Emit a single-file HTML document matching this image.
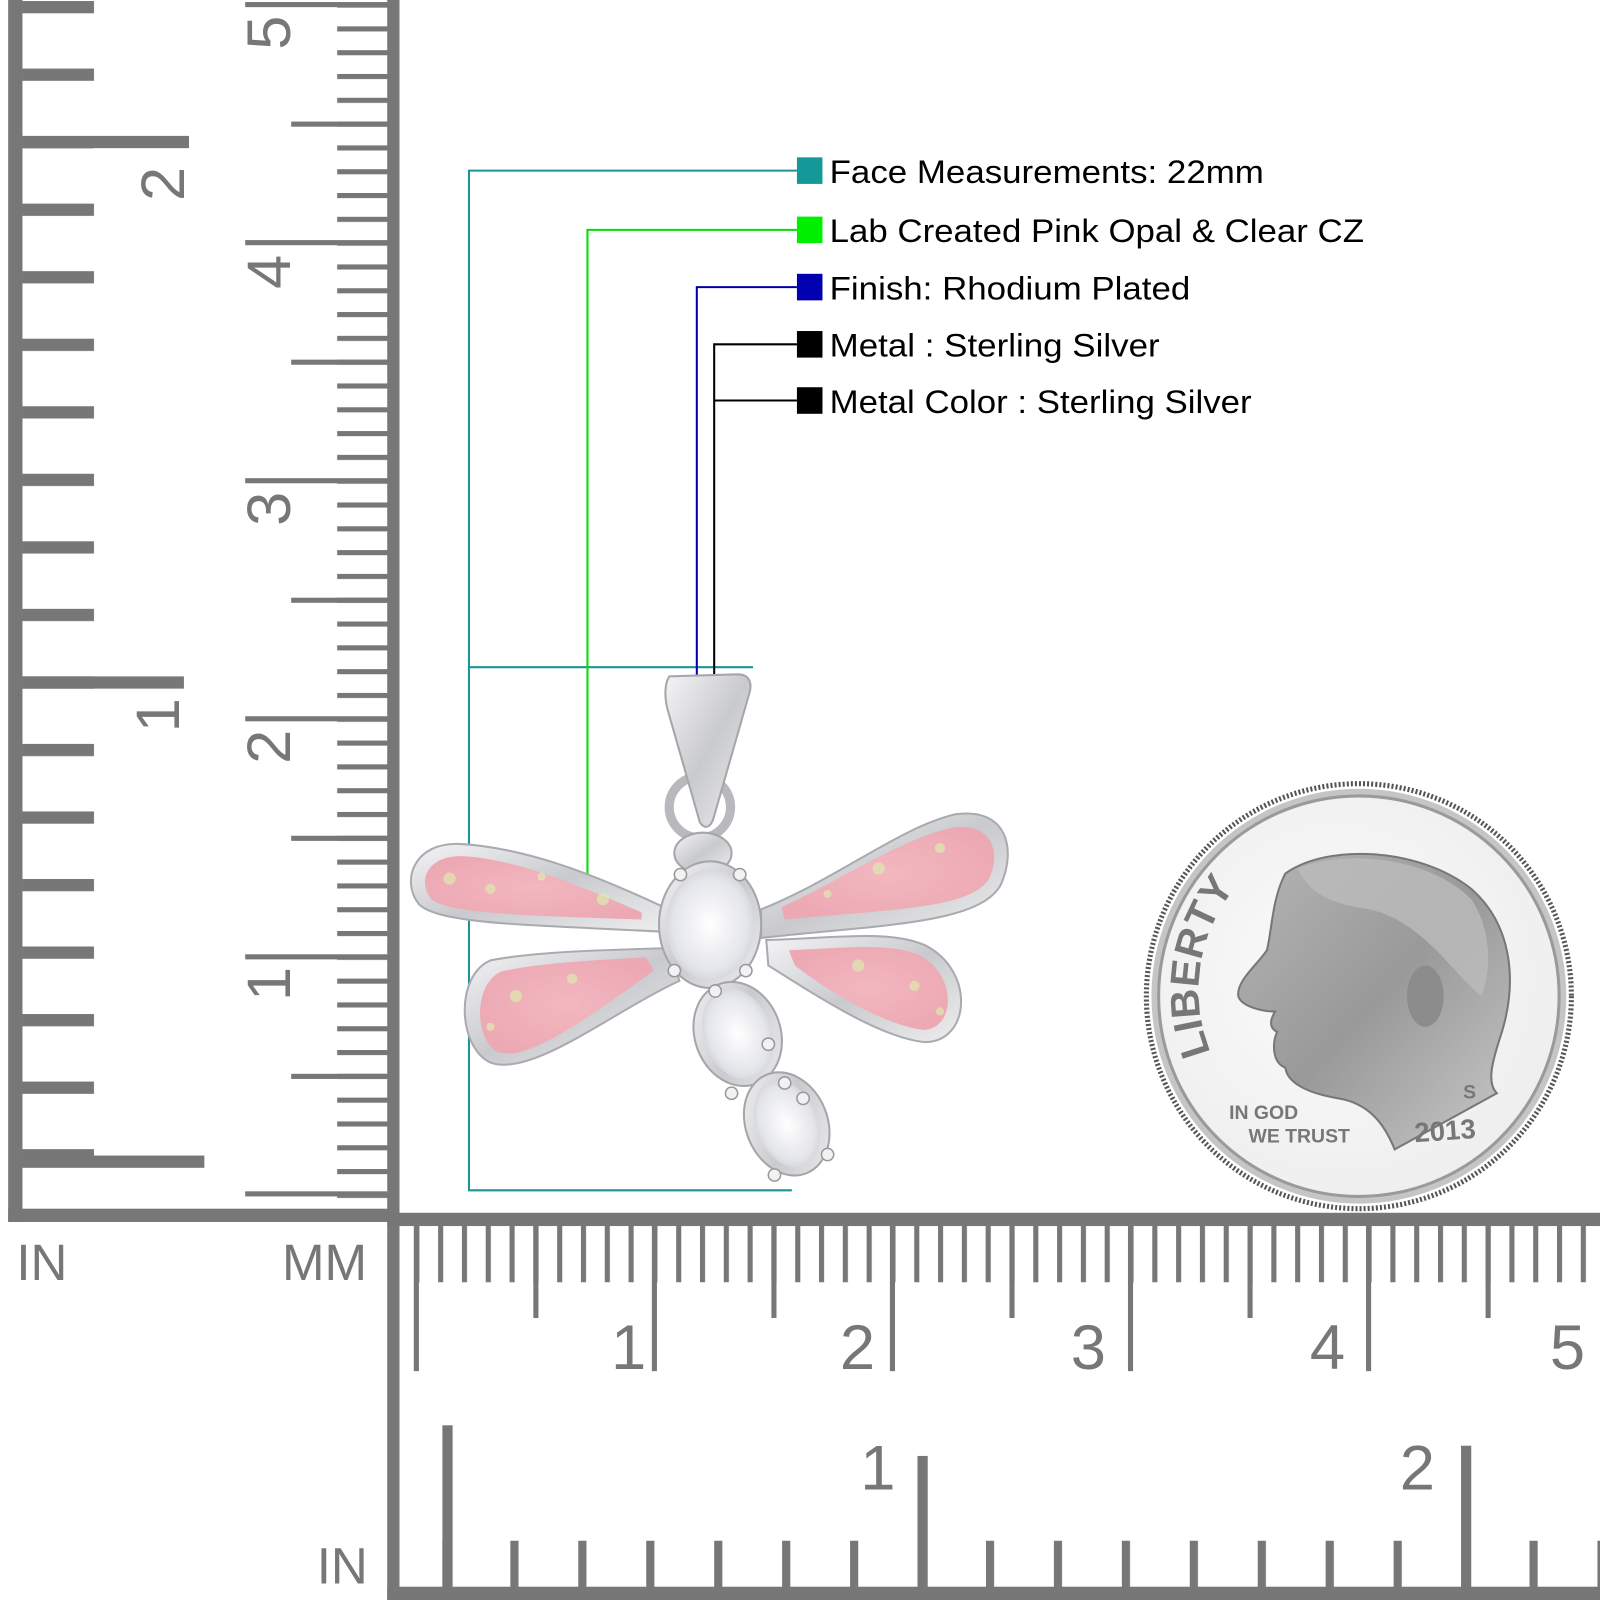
<!DOCTYPE html>
<html><head><meta charset="utf-8"><style>
html,body{margin:0;padding:0;background:#fff;}
svg{display:block;}
text{font-family:"Liberation Sans",Arial,sans-serif;}
</style></head><body>
<svg width="1600" height="1600" viewBox="0 0 1566 1566" xmlns="http://www.w3.org/2000/svg">
<defs>
<pattern id="inL" patternUnits="userSpaceOnUse" x="0" y="1" width="400" height="66.1"><rect x="22" y="0" width="70" height="12" fill="#777"/></pattern>
<pattern id="mmL" patternUnits="userSpaceOnUse" x="0" y="2.5" width="400" height="23.3"><rect x="330" y="0" width="50" height="5" fill="#777"/></pattern>
<pattern id="mmB" patternUnits="userSpaceOnUse" x="405.5" y="0" width="23.3" height="1600"><rect x="0" y="1198" width="5" height="57" fill="#777"/></pattern>
<pattern id="inB" patternUnits="userSpaceOnUse" x="433" y="0" width="66.5" height="1600"><rect x="0" y="1508" width="8" height="50" fill="#777"/></pattern>
<linearGradient id="silv" x1="0" y1="0" x2="1" y2="1"><stop offset="0" stop-color="#f4f4f6"/><stop offset="0.5" stop-color="#c9cacd"/><stop offset="1" stop-color="#eeeeef"/></linearGradient>
<radialGradient id="pink" cx="0.5" cy="0.5" r="0.6"><stop offset="0" stop-color="#f2b7c0"/><stop offset="1" stop-color="#eca8b3"/></radialGradient>
<radialGradient id="cz" cx="0.5" cy="0.5" r="0.6"><stop offset="0" stop-color="#ffffff"/><stop offset="0.7" stop-color="#e4e5ea"/><stop offset="1" stop-color="#c8c9ce"/></radialGradient>
<radialGradient id="coin" cx="0.45" cy="0.45" r="0.6"><stop offset="0" stop-color="#fbfbfb"/><stop offset="1" stop-color="#eeeeee"/></radialGradient>
<linearGradient id="head" x1="0" y1="0" x2="1" y2="1"><stop offset="0" stop-color="#b5b5b5"/><stop offset="0.5" stop-color="#999"/><stop offset="1" stop-color="#c8c8c8"/></linearGradient>
</defs>

<!-- LEFT RULER -->
<rect x="0" y="0" width="400" height="1183" fill="url(#inL)"/>
<rect x="0" y="0" width="400" height="1183" fill="url(#mmL)"/>
<rect x="8" y="0" width="14" height="1196" fill="#777"/>
<rect x="379" y="0" width="12" height="1196" fill="#777"/>
<rect x="8" y="1183" width="383" height="13" fill="#777"/>
<!-- long inch ticks -->
<rect x="22" y="133" width="163" height="12" fill="#777"/>
<rect x="22" y="662" width="158" height="12" fill="#777"/>
<rect x="22" y="1131" width="178" height="12" fill="#777"/>
<!-- 5mm ticks -->
<g fill="#777">
<rect x="285" y="119" width="94" height="5"/><rect x="285" y="352" width="94" height="5"/><rect x="285" y="585" width="94" height="5"/><rect x="285" y="818" width="94" height="5"/><rect x="285" y="1051" width="94" height="5"/>
<rect x="240" y="2" width="139" height="5"/><rect x="240" y="235" width="139" height="5"/><rect x="240" y="468" width="139" height="5"/><rect x="240" y="701" width="139" height="5"/><rect x="240" y="934" width="139" height="5"/><rect x="240" y="1166" width="139" height="5"/>
</g>
<g fill="#777" font-size="60">
<text transform="translate(180,180) rotate(-90)" text-anchor="middle">2</text>
<text transform="translate(175,700) rotate(-90)" text-anchor="middle">1</text>
<text transform="translate(284,32) rotate(-90)" text-anchor="middle">5</text>
<text transform="translate(284,266) rotate(-90)" text-anchor="middle">4</text>
<text transform="translate(284,498) rotate(-90)" text-anchor="middle">3</text>
<text transform="translate(284,731) rotate(-90)" text-anchor="middle">2</text>
<text transform="translate(284,963) rotate(-90)" text-anchor="middle">1</text>
</g>
<g fill="#777" font-size="50">
<text x="16" y="1253">IN</text>
<text x="276" y="1253">MM</text>
<text x="310" y="1550">IN</text>
</g>

<!-- BOTTOM RULER -->
<rect x="391" y="1190" width="1175" height="380" fill="url(#mmB)"/>
<rect x="391" y="1190" width="1175" height="380" fill="url(#inB)"/>
<rect x="379" y="1187" width="1187" height="13" fill="#777"/>
<rect x="379" y="1187" width="12" height="379" fill="#777"/>
<rect x="379" y="1553" width="1187" height="13" fill="#777"/>
<g fill="#777">
<rect x="522" y="1198" width="5" height="92"/><rect x="755" y="1198" width="5" height="92"/><rect x="988" y="1198" width="5" height="92"/><rect x="1221" y="1198" width="5" height="92"/><rect x="1454" y="1198" width="5" height="92"/>
<rect x="405" y="1198" width="5" height="144"/><rect x="638" y="1198" width="5" height="144"/><rect x="871" y="1198" width="5" height="144"/><rect x="1104" y="1198" width="5" height="144"/><rect x="1337" y="1198" width="5" height="144"/>
<rect x="433" y="1395" width="10" height="160"/>
<rect x="898" y="1425" width="10" height="130"/>
<rect x="1430" y="1415" width="10" height="140"/>
</g>
<g fill="#777" font-size="62">
<text x="598" y="1340">1</text><text x="822" y="1340">2</text><text x="1048" y="1340">3</text><text x="1282" y="1340">4</text><text x="1517" y="1340">5</text>
<text x="842" y="1458">1</text><text x="1370" y="1458">2</text>
</g>

<!-- LEGEND LINES -->
<g fill="none" stroke-width="2">
<polyline points="780,167 459,167 459,1165 775,1165" stroke="#1a9494"/>
<line x1="459" y1="653" x2="737" y2="653" stroke="#1a9494"/>
<polyline points="780,225 575,225 575,890" stroke="#00e000"/>
<polyline points="780,281 682,281 682,680" stroke="#0000a8"/>
<polyline points="780,337 699,337 699,660" stroke="#000"/>
<line x1="699" y1="392" x2="780" y2="392" stroke="#000"/>
</g>
<rect x="780" y="154" width="25" height="26" fill="#159898"/>
<rect x="780" y="212" width="25" height="26" fill="#00f000"/>
<rect x="780" y="268" width="25" height="26" fill="#0000b0"/>
<rect x="780" y="324" width="25" height="26" fill="#000"/>
<rect x="780" y="379" width="25" height="26" fill="#000"/>
<g fill="#000" font-size="32">
<text x="812" y="179" textLength="425" lengthAdjust="spacingAndGlyphs">Face Measurements: 22mm</text>
<text x="812" y="237" textLength="523" lengthAdjust="spacingAndGlyphs">Lab Created Pink Opal &amp; Clear CZ</text>
<text x="812" y="293" textLength="353" lengthAdjust="spacingAndGlyphs">Finish: Rhodium Plated</text>
<text x="812" y="349" textLength="323" lengthAdjust="spacingAndGlyphs">Metal : Sterling Silver</text>
<text x="812" y="404" textLength="413" lengthAdjust="spacingAndGlyphs">Metal Color : Sterling Silver</text>
</g>

<!-- DRAGONFLY -->
<g stroke="#a9abb0" stroke-width="2">
<!-- wings outer silver -->
<path d="M650,888 C590,860 520,830 450,826 C405,824 392,862 410,885 C430,905 520,905 650,912 Z" fill="url(#silv)"/>
<path d="M655,928 C580,930 520,932 480,940 C445,955 448,1025 480,1040 C520,1055 600,990 665,960 Z" fill="url(#silv)"/>
<path d="M745,890 C820,860 880,810 935,797 C985,790 995,830 980,865 C960,905 860,905 745,918 Z" fill="url(#silv)"/>
<path d="M750,920 C820,918 870,910 905,925 C955,950 950,1020 905,1020 C860,1015 800,975 752,945 Z" fill="url(#silv)"/>
</g>
<g fill="url(#pink)">
<path d="M628,893 C570,868 510,842 455,838 C418,836 408,862 422,880 C440,895 520,896 628,900 Z"/>
<path d="M632,937 C575,940 525,943 490,951 C462,965 465,1020 488,1030 C520,1040 590,985 640,950 Z"/>
<path d="M765,888 C825,860 880,822 932,810 C972,805 980,835 968,860 C950,890 870,890 768,900 Z"/>
<path d="M772,930 C825,928 870,922 900,935 C938,955 935,1008 903,1008 C865,1003 810,970 778,945 Z"/>
</g>
<g fill="#dfe9b0" opacity="0.7">
<circle cx="440" cy="860" r="6"/><circle cx="480" cy="870" r="5"/><circle cx="530" cy="858" r="4"/><circle cx="590" cy="880" r="6"/><circle cx="505" cy="975" r="6"/><circle cx="560" cy="958" r="5"/><circle cx="480" cy="1005" r="4"/>
<circle cx="860" cy="850" r="6"/><circle cx="920" cy="830" r="5"/><circle cx="810" cy="875" r="4"/><circle cx="840" cy="945" r="6"/><circle cx="895" cy="965" r="5"/><circle cx="920" cy="990" r="4"/>
</g>
<!-- bail -->
<ellipse cx="685" cy="790" rx="30" ry="30" fill="none" stroke="#b8b9bd" stroke-width="9"/>
<path d="M655,662 C650,670 650,685 655,700 L685,805 C690,812 695,810 698,802 L733,680 C737,668 733,660 722,660 Z" fill="url(#silv)" stroke="#a5a6aa" stroke-width="2"/>
<!-- body -->
<g stroke="#a5a6aa" stroke-width="2">
<ellipse cx="688" cy="835" rx="28" ry="20" fill="url(#silv)"/>
<ellipse cx="695" cy="905" rx="50" ry="62" fill="url(#silv)"/>
<ellipse cx="722" cy="1012" rx="42" ry="52" fill="url(#silv)" transform="rotate(-20 722 1012)"/>
<ellipse cx="770" cy="1100" rx="40" ry="52" fill="url(#silv)" transform="rotate(-22 770 1100)"/>
</g>
<ellipse cx="695" cy="905" rx="43" ry="54" fill="url(#cz)"/>
<ellipse cx="722" cy="1012" rx="33" ry="46" fill="url(#cz)" transform="rotate(-20 722 1012)"/>
<ellipse cx="770" cy="1100" rx="30" ry="44" fill="url(#cz)" transform="rotate(-22 770 1100)"/>
<g fill="#f2f2f4" stroke="#999" stroke-width="1.5">
<circle cx="666" cy="856" r="6"/><circle cx="724" cy="856" r="6"/><circle cx="660" cy="950" r="6"/><circle cx="730" cy="950" r="6"/>
<circle cx="700" cy="970" r="6"/><circle cx="752" cy="1022" r="6"/><circle cx="716" cy="1070" r="6"/><circle cx="768" cy="1060" r="6"/><circle cx="786" cy="1075" r="6"/><circle cx="758" cy="1150" r="6"/><circle cx="810" cy="1130" r="6"/>
</g>

<!-- DIME -->
<circle cx="1330" cy="975" r="208" fill="#fff" stroke="#555" stroke-width="5" stroke-dasharray="2 2"/>
<circle cx="1330" cy="975" r="203" fill="#c5c5c5"/>
<circle cx="1330" cy="975" r="196" fill="url(#coin)" stroke="#9a9a9a" stroke-width="3"/>
<path d="M1258,855 C1300,825 1390,830 1440,870 C1480,905 1485,960 1470,1010 C1460,1040 1455,1060 1465,1070 L1365,1125 C1355,1100 1340,1080 1310,1075 C1280,1070 1260,1060 1258,1045 C1245,1040 1245,1020 1250,1010 C1240,1005 1245,995 1248,990 C1235,990 1215,985 1212,975 C1210,960 1230,945 1240,930 C1245,910 1245,880 1258,855 Z" fill="url(#head)" stroke="#777" stroke-width="2"/>
<path d="M1270,850 C1320,830 1400,840 1440,880 C1460,910 1460,950 1450,975 C1420,950 1390,900 1340,890 C1310,885 1285,880 1270,850 Z" fill="#bcbcbc" opacity="0.8"/>
<ellipse cx="1395" cy="975" rx="18" ry="30" fill="#8c8c8c"/>
<g fill="#777" font-weight="bold">
<path id="arcL" d="M1185,1030 A160,160 0 0 1 1255,830" fill="none"/>
<text font-size="40"><textPath href="#arcL">LIBERTY</textPath></text>
<text x="1203" y="1095" font-size="19">IN GOD</text>
<text x="1222" y="1118" font-size="19">WE TRUST</text>
<text x="1385" y="1118" font-size="27" transform="rotate(-4 1385 1118)">2013</text>
<text x="1432" y="1075" font-size="19">S</text>
</g>
</svg>
</body></html>
